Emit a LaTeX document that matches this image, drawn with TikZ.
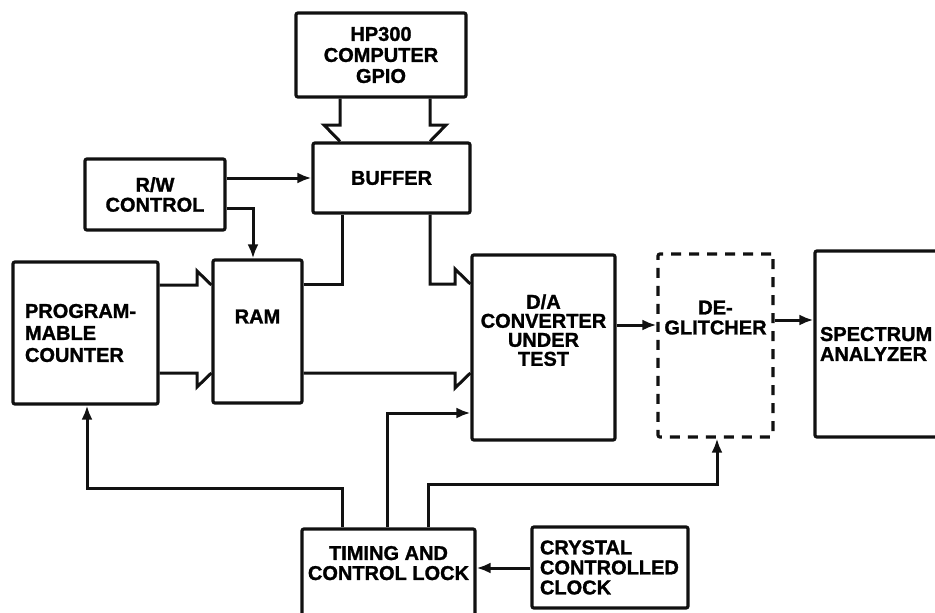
\documentclass[tikz,border=0pt]{standalone}
\usepackage{fontspec}
\setmainfont{Liberation Sans}[BoldFeatures={FakeBold=1.3}]
\usepackage{tikz}
\usetikzlibrary{arrows.meta}
\definecolor{ink}{HTML}{111111}
\tikzset{
  ar/.style={-{Latex[length=14pt,width=11pt]},line width=3pt,ink},
  ln/.style={line width=3pt,ink},
  box/.style={draw=ink,line width=3.2pt,rounded corners=2pt,align=center,inner sep=0pt,font=\fontsize{20}{20}\selectfont\bfseries},
  dbox/.style={box,dash pattern=on 10pt off 8pt}
}
\begin{document}
\begin{tikzpicture}[x=1pt,y=-1pt]
\useasboundingbox (0,0) rectangle (935,613);
\clip (0,0) rectangle (935,613);
% blocks
\node[box,minimum width=170pt,minimum height=84pt,font=\fontsize{20}{21}\selectfont\bfseries] (hp) at (381,55) {HP300\\COMPUTER\\GPIO};
\node[box,minimum width=157pt,minimum height=70pt] (buf) at (391.5,178) {BUFFER};
\node[box,minimum width=140pt,minimum height=71pt] (rw) at (155,194.5) {R/W\\CONTROL};
\node[box,minimum width=145pt,minimum height=142pt,align=left,text width=121pt,font=\fontsize{20}{22}\selectfont\bfseries] (cnt) at (85.5,333) {PROGRAM-\\MABLE\\COUNTER};
\node[box,minimum width=89pt,minimum height=143pt] (ram) at (257.5,331.5) {RAM\\[10pt]};
\node[box,minimum width=143pt,minimum height=185pt,font=\fontsize{20}{19}\selectfont\bfseries] (dac) at (543.5,347.5) {D/A\\CONVERTER\\UNDER\\TEST\\[16pt]};
\node[dbox,minimum width=115pt,minimum height=183pt] (deg) at (715.5,345.5) {DE-\\GLITCHER\\[36pt]};
\node[box,minimum width=145pt,minimum height=186pt,align=left,text width=135pt] (spec) at (887.5,344) {SPECTRUM\\ANALYZER\\[36pt]};
\node[box,minimum width=173pt,minimum height=96pt] (tim) at (388.5,577) {TIMING AND\\CONTROL LOCK\\[8pt]};
\node[box,minimum width=156pt,minimum height=81pt,align=left,text width=140pt] (xtal) at (610,567.5) {CRYSTAL\\CONTROLLED\\CLOCK};
% buses
\draw[ln] (340,0 |- hp.south) -- (340,125) -- (324,125) -- (340,0 |- buf.north);
\draw[ln] (430,0 |- hp.south) -- (430,125) -- (446,125) -- (430,0 |- buf.north);
\draw[ln] (cnt.east |- 0,285) -- (197,285) -- (197,271) -- (ram.west |- 0,285);
\draw[ln] (cnt.east |- 0,373) -- (197,373) -- (197,387) -- (ram.west |- 0,373);
\draw[ln] (ram.east |- 0,284) -- (342,284) -- (342,0 |- buf.south);
\draw[ln] (430,0 |- buf.south) -- (430,284) -- (455,284) -- (455,269) -- (dac.west |- 0,284);
\draw[ln] (ram.east |- 0,373) -- (455,373) -- (455,388) -- (dac.west |- 0,373);
% control and signal lines
\draw[ar] (rw.east |- 0,178) -- (buf.west |- 0,178);
\draw[ar] (rw.east |- 0,208) -- (253,208) -- (253,0 |- ram.north);
\draw[ar] (dac.east |- 0,325) -- (deg.west |- 0,325);
\draw[ar] (deg.east |- 0,320) -- (spec.west |- 0,320);
\draw[ar] (xtal.west |- 0,568) -- (tim.east |- 0,568);
\draw[ar] (342,0 |- tim.north) -- (342,488) -- (87,488) -- (87,0 |- cnt.south);
\draw[ar] (387,0 |- tim.north) -- (387,413) -- (dac.west |- 0,413);
\draw[ar] (428,0 |- tim.north) -- (428,484) -- (717,484) -- (717,0 |- deg.south);
\end{tikzpicture}
\end{document}
